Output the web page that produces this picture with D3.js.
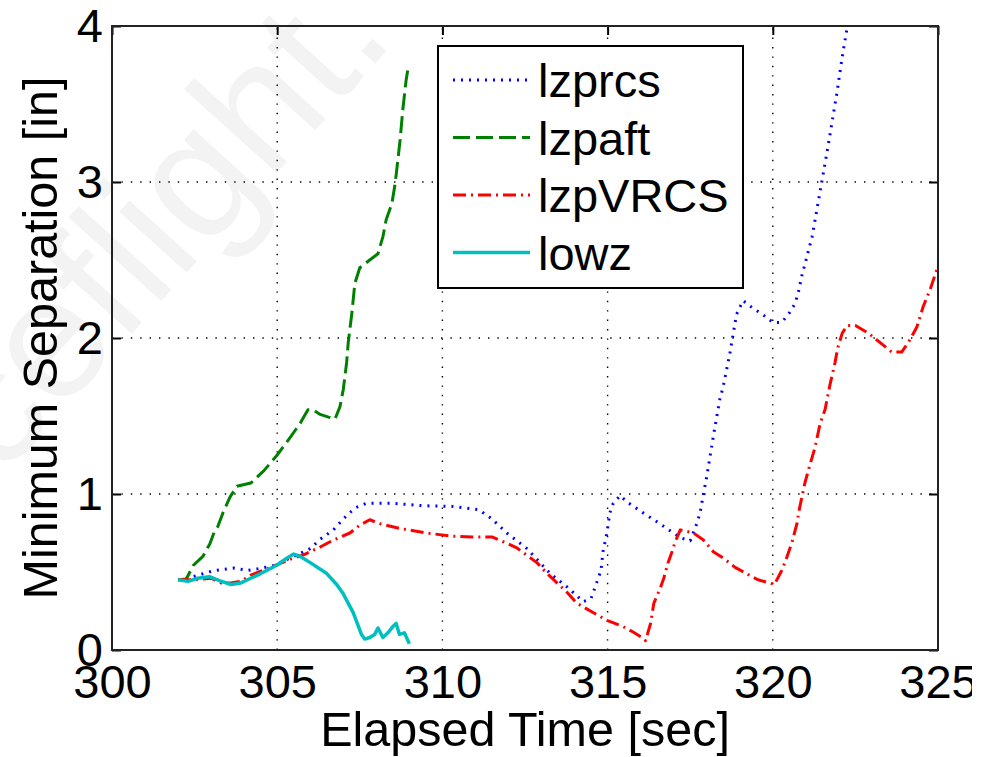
<!DOCTYPE html>
<html>
<head>
<meta charset="utf-8">
<script src="https://cdn.jsdelivr.net/npm/d3@7"></script>
<style>
  body { margin: 0; background: #fff; }
  text { font-family: "Liberation Sans", Arial, sans-serif; }
</style>
</head>
<body>
<svg id="chart"></svg>
<script>
// ticks
const xTicks = [300, 305, 310, 315, 320, 325];
const yTicks = [0, 1, 2, 3, 4];

// series, [time sec, separation in]
const lzprcs = [
  [302.0,0.45],[302.45,0.47],[303.1,0.51],[303.7,0.525],[304.1,0.51],[304.4,0.52],[304.88,0.54],
  [305.5,0.60],[306.0,0.65],[306.3,0.71],[306.7,0.77],[307.0,0.84],[307.35,0.91],[307.7,0.94],
  [308.5,0.94],[309.4,0.925],[310.3,0.92],[311.1,0.90],[311.5,0.84],[311.95,0.75],[312.56,0.65],
  [313.26,0.49],[313.8,0.40],[314.26,0.31],[314.5,0.33],[314.7,0.45],[314.8,0.51],[314.86,0.63],
  [314.98,0.75],[315.07,0.88],[315.17,0.94],[315.38,0.99],[315.58,0.95],[316.07,0.88],[316.65,0.80],
  [317.2,0.72],[317.5,0.70],[317.7,0.81],[317.8,0.88],[317.9,1.0],[318.0,1.11],[318.1,1.24],
  [318.2,1.37],[318.3,1.49],[318.4,1.61],[318.5,1.69],[318.7,1.90],[318.9,2.15],[319.1,2.24],
  [319.4,2.19],[319.7,2.15],[320.0,2.10],[320.27,2.10],[320.5,2.16],[320.67,2.22],[320.77,2.29],
  [320.88,2.40],[321.03,2.52],[321.19,2.65],[321.34,2.83],[321.49,3.01],[321.64,3.19],[321.79,3.38],
  [321.94,3.57],[322.1,3.80],[322.25,3.99],[322.3,4.05]
];
const lzpaft = [
  [302.0,0.45],[302.25,0.455],[302.45,0.54],[302.75,0.60],[302.96,0.68],[303.1,0.76],[303.2,0.79],
  [303.36,0.88],[303.57,0.98],[303.78,1.05],[304.2,1.07],[304.6,1.15],[305.0,1.25],[305.4,1.365],
  [305.7,1.455],[305.93,1.54],[306.08,1.54],[306.3,1.51],[306.6,1.49],[306.75,1.48],[306.9,1.56],
  [307.0,1.67],[307.1,1.84],[307.15,1.97],[307.26,2.16],[307.35,2.35],[307.5,2.45],[307.8,2.5],
  [308.05,2.54],[308.2,2.65],[308.3,2.76],[308.47,2.86],[308.57,2.99],[308.63,3.10],[308.72,3.27],
  [308.8,3.46],[308.9,3.65],[308.97,3.74]
];
const lzpVRCS = [
  [302.0,0.45],[302.5,0.45],[303.0,0.46],[303.3,0.43],[303.6,0.43],[303.9,0.44],[304.2,0.48],
  [304.8,0.53],[305.5,0.59],[305.8,0.61],[306.3,0.66],[306.7,0.705],[307.2,0.75],[307.5,0.80],
  [307.8,0.835],[308.1,0.81],[308.7,0.78],[309.5,0.75],[310.3,0.73],[310.9,0.725],[311.5,0.725],
  [311.95,0.685],[312.25,0.655],[312.86,0.56],[313.17,0.49],[313.77,0.37],[314.07,0.30],[314.56,0.24],
  [314.98,0.19],[315.47,0.15],[315.77,0.115],[316.07,0.077],[316.15,0.06],[316.3,0.17],[316.4,0.30],
  [316.6,0.40],[316.7,0.46],[316.83,0.56],[316.95,0.63],[317.04,0.69],[317.2,0.77],[317.4,0.76],
  [317.6,0.75],[317.9,0.705],[318.2,0.63],[318.5,0.59],[318.86,0.53],[319.2,0.49],[319.55,0.45],
  [319.9,0.43],[320.05,0.42],[320.27,0.51],[320.4,0.58],[320.58,0.69],[320.73,0.81],[320.8,0.90],
  [320.97,1.07],[321.1,1.17],[321.28,1.30],[321.43,1.45],[321.58,1.54],[321.73,1.70],[321.88,1.84],
  [321.97,1.94],[322.1,2.03],[322.25,2.08],[322.5,2.08],[322.9,2.03],[323.25,1.97],[323.6,1.91],
  [323.9,1.91],[324.1,1.97],[324.36,2.07],[324.55,2.20],[324.76,2.31],[325.0,2.46]
];
const lowz = [
  [302.0,0.45],[302.3,0.44],[302.6,0.46],[302.95,0.47],[303.25,0.445],[303.6,0.42],[303.9,0.43],
  [304.2,0.46],[304.5,0.49],[305.0,0.545],[305.3,0.59],[305.5,0.615],[305.7,0.60],[306.0,0.56],
  [306.5,0.49],[306.8,0.42],[307.0,0.36],[307.3,0.24],[307.55,0.10],[307.65,0.07],[307.8,0.08],
  [307.95,0.10],[308.05,0.14],[308.2,0.08],[308.35,0.11],[308.5,0.15],[308.6,0.17],[308.7,0.10],
  [308.85,0.11],[309.0,0.04]
];

const seriesNames = ['lzprcs', 'lzpaft', 'lzpVRCS', 'lowz'];
const seriesData = [lzprcs, lzpaft, lzpVRCS, lowz];
const seriesColors = ['#0000ff', '#008000', '#ff0000', '#00bfbf'];
const seriesDash = ['2,6', '17,6', '13,5,2,5', null];

const width = 992;
const height = 757;
const margin = { left: 112, top: 26, right: 54, bottom: 107 };

const svg = d3.select('#chart')
  .attr('width', width)
  .attr('height', height);

// faint watermark
svg.append('text')
  .attr('transform', 'translate(0,480) rotate(-48)')
  .attr('font-size', 172)
  .attr('fill', '#f3f3f3')
  .text('ceflight.');

const x = d3.scaleLinear().domain([300, 325]).range([margin.left, width - margin.right]);
const y = d3.scaleLinear().domain([0, 4]).range([height - margin.bottom, margin.top]);

svg.append('clipPath').attr('id', 'plotClip')
  .append('rect')
  .attr('x', x(300)).attr('y', y(4))
  .attr('width', x(325) - x(300)).attr('height', y(0) - y(4));

svg.append('clipPath').attr('id', 'pageClip')
  .append('rect')
  .attr('x', 0).attr('y', 0).attr('width', 972).attr('height', height);

// grid
const grid = svg.append('g')
  .attr('stroke', '#000')
  .attr('stroke-width', 1.4)
  .attr('stroke-dasharray', '1.4,8');

grid.selectAll('.vgrid')
  .data(xTicks.slice(1, -1))
  .enter()
  .append('line')
  .attr('x1', d => x(d)).attr('x2', d => x(d))
  .attr('y1', y(0)).attr('y2', y(4));

grid.selectAll('.hgrid')
  .data(yTicks.slice(1, -1))
  .enter()
  .append('line')
  .attr('x1', x(300)).attr('x2', x(325))
  .attr('y1', d => y(d)).attr('y2', d => y(d));

// axes
const fontSize = 47;
const labelSize = 48.5;

svg.append('g')
  .attr('transform', `translate(0,${y(0)})`)
  .attr('clip-path', 'url(#pageClip)')
  .call(d3.axisBottom(x).tickValues(xTicks).tickSize(-9).tickPadding(15).tickFormat(d3.format('d')));

svg.append('g')
  .attr('transform', `translate(0,${y(4)})`)
  .call(d3.axisTop(x).tickValues(xTicks).tickSize(-9).tickFormat(''));

svg.append('g')
  .attr('transform', `translate(${x(300)},0)`)
  .call(d3.axisLeft(y).tickValues(yTicks).tickSize(-9).tickPadding(9).tickFormat(d3.format('d')));

svg.append('g')
  .attr('transform', `translate(${x(325)},0)`)
  .call(d3.axisRight(y).tickValues(yTicks).tickSize(-9).tickFormat(''));

svg.selectAll('.domain').remove();
svg.selectAll('.tick line').attr('stroke', '#000').attr('stroke-width', 2);
svg.selectAll('.tick text')
  .attr('fill', '#000')
  .style('font-size', fontSize + 'px')
  .style('font-family', '"Liberation Sans", Arial, sans-serif');

// lines
const line = d3.line()
  .x(d => x(d[0]))
  .y(d => y(d[1]));

const plot = svg.append('g').attr('clip-path', 'url(#plotClip)');

seriesData.forEach((s, i) => {
  plot.append('path')
    .attr('d', line(s))
    .attr('fill', 'none')
    .attr('stroke', seriesColors[i])
    .attr('stroke-width', i === 3 ? 3.5 : 3)
    .attr('stroke-linejoin', 'round')
    .attr('stroke-dasharray', seriesDash[i]);
});

// box
svg.append('rect')
  .attr('x', x(300)).attr('y', y(4))
  .attr('width', x(325) - x(300)).attr('height', y(0) - y(4))
  .attr('fill', 'none')
  .attr('stroke', '#222')
  .attr('stroke-width', 2);

// legend
const legend = svg.append('g').attr('transform', 'translate(438,46)');

legend.append('rect')
  .attr('width', 305).attr('height', 242)
  .attr('fill', '#fff')
  .attr('stroke', '#000')
  .attr('stroke-width', 2);

const legendRow = legend.selectAll('.row')
  .data(seriesNames)
  .enter()
  .append('g')
  .attr('transform', (d, i) => `translate(0,${34 + i * 57.5})`);

legendRow.append('line')
  .attr('x1', 15).attr('x2', 92)
  .attr('stroke', (d, i) => seriesColors[i])
  .attr('stroke-width', (d, i) => i === 3 ? 3.5 : 3)
  .attr('stroke-dasharray', (d, i) => seriesDash[i]);

legendRow.append('text')
  .attr('x', 100)
  .attr('y', 17)
  .attr('font-size', fontSize)
  .text(d => d);

// axis labels
svg.append('text')
  .attr('x', (x(300) + x(325)) / 2)
  .attr('y', 746)
  .attr('text-anchor', 'middle')
  .attr('font-size', labelSize)
  .text('Elapsed Time [sec]');

svg.append('text')
  .attr('transform', `translate(57,${(y(0) + y(4)) / 2}) rotate(-90)`)
  .attr('text-anchor', 'middle')
  .attr('font-size', labelSize)
  .text('Minimum Separation [in]');
</script>
</body>
</html>
